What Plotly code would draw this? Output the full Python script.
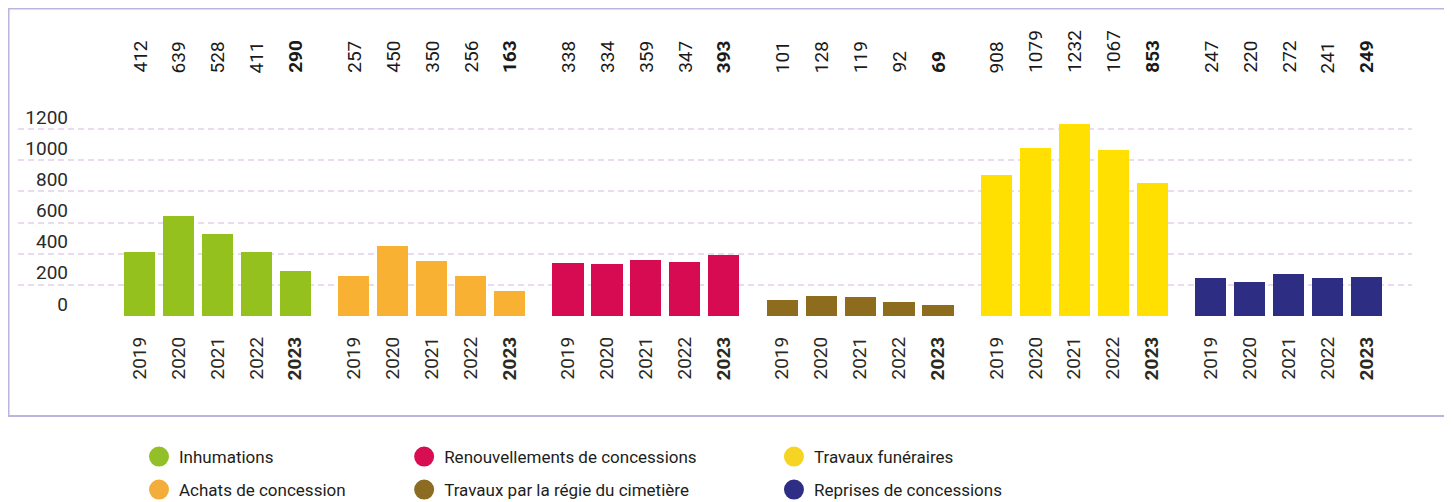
import plotly.graph_objects as go

years = ["2019", "2020", "2021", "2022", "2023"]
series_names = [
    "Inhumations",
    "Achats de concession",
    "Renouvellements de concessions",
    "Travaux par la régie du cimetière",
    "Travaux funéraires",
    "Reprises de concessions",
]
inhumations = [412, 639, 528, 411, 290]
achats = [257, 450, 350, 256, 163]
renouvellements = [338, 334, 359, 347, 393]
travaux_regie = [101, 128, 119, 92, 69]
travaux_funeraires = [908, 1079, 1232, 1067, 853]
reprises = [247, 220, 272, 241, 249]
series_values = [inhumations, achats, renouvellements, travaux_regie, travaux_funeraires, reprises]

bar_colors = ["#95c11f", "#f8b133", "#d60b51", "#8d6c1e", "#ffe000", "#2e2d84"]
legend_colors = ["#93bf28", "#f2ad3a", "#d70f52", "#8c6b23", "#f5d423", "#2f2e86"]
y_ticks = [0, 200, 400, 600, 800, 1000, 1200]

GROUP_STEP = 5.5
FONT = "Roboto"

fig = go.Figure()
tick_pos, tick_text = [], []
annotations = []
for g, (name, vals) in enumerate(zip(series_names, series_values)):
    xs = [g * GROUP_STEP + i for i in range(len(years))]
    fig.add_trace(go.Bar(x=xs, y=vals, width=0.8, marker_color=bar_colors[g],
                         marker_line_width=0, showlegend=False, name=name,
                         hoverinfo="skip"))
    for i, (x, v, yr) in enumerate(zip(xs, vals, years)):
        last = i == len(years) - 1
        tick_pos.append(x)
        tick_text.append(f"<b>{yr}</b>" if last else yr)
        annotations.append(dict(
            x=x, xref="x", y=1.1157, yref="paper", xanchor="center", yanchor="bottom",
            text=f"<b>{v}</b>" if last else str(v), textangle=-90, showarrow=False,
            font=dict(family=FONT, size=19, color="#1a1a1a")))

# legend entries (circles)
legend_pos = [
    (0.0868, -0.6528), (0.0868, -0.8056),
    (0.277, -0.6528), (0.277, -0.8056),
    (0.5423, -0.6528), (0.5423, -0.8056),
]
layout_legends = {}
for k, name in enumerate(series_names):
    lname = "legend" if k == 0 else f"legend{k+1}"
    fig.add_trace(go.Scatter(x=[None], y=[None], mode="markers", name=name,
                             legend=lname, showlegend=True,
                             marker=dict(symbol="circle", size=16, color=legend_colors[k],
                                         line=dict(color=legend_colors[k], width=4))))
    lx, ly = legend_pos[k]
    layout_legends[lname] = dict(x=lx, y=ly, xanchor="left", yanchor="middle",
                                 bgcolor="rgba(0,0,0,0)", borderwidth=0,
                                 font=dict(family=FONT, size=17, color="#1d1d1b"),
                                 itemclick=False, itemdoubleclick=False)

# page body has an 8px margin: figure is sized so that it ends at the window edge
fig.update_layout(
    width=1444, height=494,
    margin=dict(l=10, r=40, t=92, b=186, pad=0, autoexpand=False),
    paper_bgcolor="white", plot_bgcolor="white",
    bargap=0,
    annotations=annotations,
    **layout_legends,
    xaxis=dict(range=[-3.12, 32.67], tickmode="array", tickvals=tick_pos, ticktext=tick_text,
               tickangle=-90, showgrid=False, zeroline=False, showline=False, ticks="",
               ticklabelstandoff=16, automargin=False,
               tickfont=dict(family=FONT, size=19, color="#2b2a22"), fixedrange=True),
    yaxis=dict(range=[0, 1386.1], tickmode="array", tickvals=y_ticks,
               ticktext=[str(v) for v in y_ticks],
               showgrid=True, gridcolor="#eadcef", gridwidth=1.5, griddash="6px,4px",
               zeroline=False, showline=False, ticks="", automargin=False,
               ticklabelposition="outside", ticklabelstandoff=-51, ticklabelshift=-12,
               tickfont=dict(family=FONT, size=19, color="#2a2a2a"), fixedrange=True),
    shapes=[dict(type="rect", xref="paper", yref="paper",
                 x0=-0.00681, x1=1.02511, y0=-0.46296, y1=1.4236,
                 line=dict(color="#bab5de", width=2), fillcolor="rgba(0,0,0,0)",
                 layer="below")],
)

fig.write_html("out.html")
